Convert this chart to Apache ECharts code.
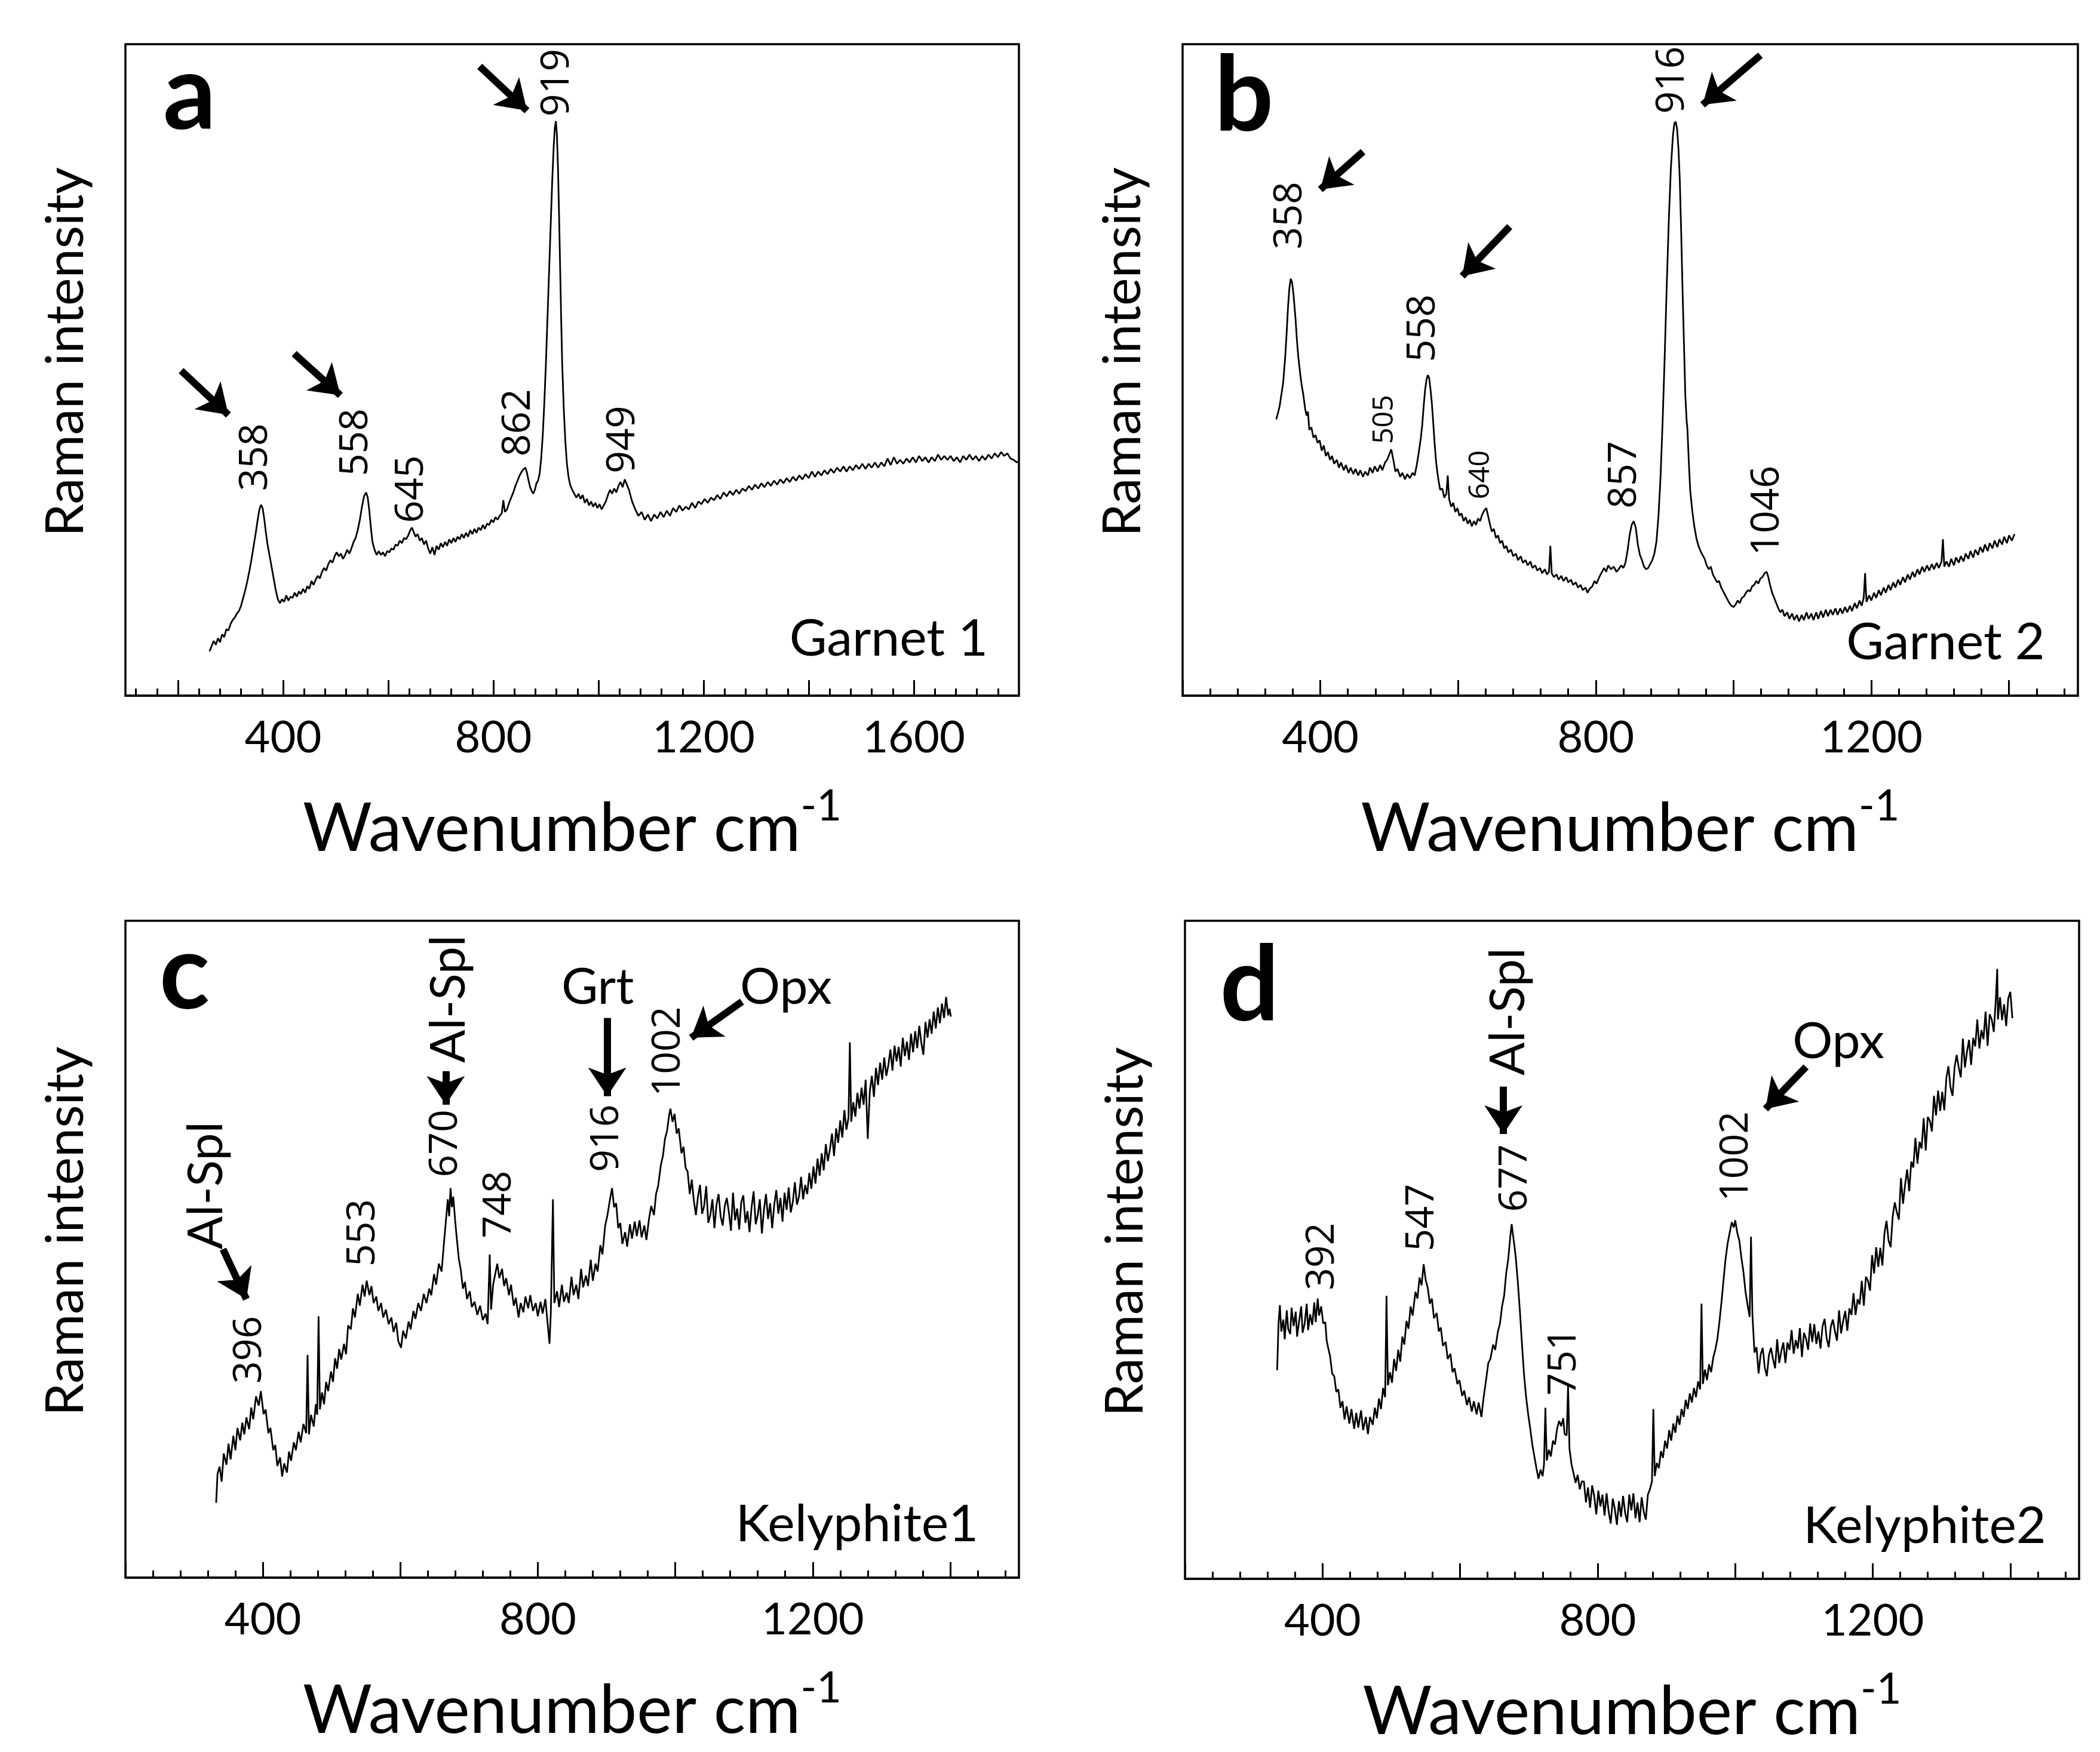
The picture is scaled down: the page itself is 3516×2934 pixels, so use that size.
<!DOCTYPE html>
<html>
<head>
<meta charset="utf-8">
<title>Raman spectra</title>
<script src="https://cdn.jsdelivr.net/npm/echarts@6/dist/echarts.min.js"></script>
<style>
html, body { margin: 0; padding: 0; background: #fff; }
#chart { width: 3516px; height: 2934px; }
</style>
</head>
<body>
<div id="chart"></div>
<script>
// spectra: [wavenumber cm-1, relative intensity 0-100]
var spectrumA = [
[260,6.8],[264,7.6],[268,8.4],[272,7.8],[276,8.8],[280,8.2],[284,9.4],[288,9.0],[292,10.2],[296,10.0],[300,11.0],[304,11.6],[308,12.0],[312,12.6],[316,13.0],[320,13.8],[324,15.0],[328,16.2],[332,17.6],[336,19.2],[340,21.0],[344,23.0],[348,25.0],[352,27.2],[355,28.6],[358,29.3],[361,28.8],[364,27.2],[367,25.2],[370,23.4],[374,21.6],[378,19.8],[382,18.0],[386,16.2],[390,14.8],[394,14.2],[398,14.8],[402,14.4],[406,15.4],[410,14.6],[414,15.2],[418,15.0],[422,15.8],[426,15.2],[430,16.0],[434,15.6],[438,16.4],[442,15.8],[446,16.8],[450,16.4],[454,17.6],[458,17.0],[462,17.8],[466,18.4],[470,18.0],[474,19.0],[478,19.6],[482,19.2],[486,20.2],[490,20.8],[494,20.4],[498,21.4],[502,22.0],[506,21.4],[510,21.8],[514,21.0],[518,21.6],[522,22.4],[526,21.8],[530,22.6],[534,23.6],[538,24.2],[542,25.4],[546,27.0],[550,29.0],[554,30.6],[558,31.2],[561,30.4],[564,28.4],[567,25.8],[570,23.6],[574,22.4],[578,21.6],[582,22.2],[586,21.6],[590,22.0],[594,21.4],[598,22.2],[602,22.0],[606,22.6],[610,22.4],[614,23.2],[618,23.0],[622,23.8],[626,23.4],[630,24.2],[634,24.0],[638,24.6],[642,25.4],[645,25.8],[648,25.2],[652,24.4],[656,24.8],[660,23.8],[664,24.2],[668,23.2],[672,23.8],[676,22.6],[680,21.8],[684,22.8],[688,21.6],[692,23.0],[696,22.4],[700,23.4],[704,22.8],[708,23.6],[712,23.0],[716,24.0],[720,23.4],[724,24.2],[728,23.6],[732,24.4],[736,24.0],[740,24.8],[744,24.2],[748,25.0],[752,24.4],[756,25.4],[760,24.8],[764,25.6],[768,25.0],[772,25.8],[776,25.4],[780,26.2],[784,25.6],[788,26.4],[792,26.2],[796,27.0],[800,26.6],[804,27.4],[808,27.0],[812,27.6],[816,28.0],[819,30.0],[822,28.2],[826,28.6],[830,29.6],[834,30.4],[838,31.2],[842,32.2],[846,33.0],[850,33.8],[854,34.4],[858,34.8],[861,35.0],[864,34.2],[867,33.0],[870,32.0],[873,31.4],[876,31.0],[879,31.6],[882,32.6],[885,33.0],[888,34.0],[891,36.4],[894,40.0],[897,45.0],[900,51.0],[903,58.0],[906,65.0],[909,72.0],[912,79.0],[915,84.6],[917,87.2],[919,88.2],[921,86.0],[923,81.0],[925,74.0],[927,66.0],[929,58.0],[931,51.0],[934,44.0],[937,39.0],[940,35.6],[943,33.6],[946,32.4],[950,31.6],[954,31.0],[958,30.4],[962,31.0],[966,30.2],[970,30.8],[974,29.6],[978,30.2],[982,29.2],[986,29.8],[990,29.0],[994,29.6],[998,28.8],[1002,29.4],[1006,28.6],[1010,29.2],[1014,29.8],[1018,30.8],[1022,31.6],[1026,31.0],[1030,31.8],[1034,31.2],[1038,32.2],[1042,32.8],[1046,32.0],[1050,33.2],[1054,32.4],
[1058,31.6],[1064,29.8],[1070,28.6],[1076,27.6],[1082,28.2],[1088,27.0],[1094,27.8],[1100,26.8],[1106,27.8],[1112,27.2],[1118,28.2],[1124,27.4],[1130,28.4],[1136,27.6],[1142,28.8],[1148,28.2],[1154,29.2],[1160,28.4],[1166,29.0],[1172,28.6],[1178,29.6],[1184,28.8],[1190,29.8],[1196,29.4],[1202,30.2],[1208,29.6],[1214,30.4],[1220,30.0],[1226,30.8],[1232,30.2],[1238,31.2],[1244,30.6],[1250,31.4],[1256,30.8],[1262,31.6],[1268,31.0],[1274,31.8],[1280,31.4],[1286,32.2],[1292,31.6],[1298,32.4],[1304,31.8],[1310,32.6],[1316,32.0],[1322,32.8],[1328,32.2],[1334,33.0],[1340,32.4],[1346,33.2],[1352,32.6],[1358,33.4],[1364,32.8],[1370,33.6],[1376,33.0],[1382,33.8],[1388,33.2],[1394,34.0],[1400,33.4],[1406,34.4],[1412,33.6],[1418,34.4],[1424,33.8],[1430,34.6],[1436,34.0],[1442,34.8],[1448,34.2],[1454,35.0],[1460,34.4],[1466,35.2],[1472,34.4],[1478,35.2],[1484,34.6],[1490,35.4],[1496,34.8],[1502,35.6],[1508,34.8],[1514,35.6],[1520,35.0],[1526,35.8],[1532,35.0],[1538,35.8],[1544,35.2],[1550,36.4],[1556,35.4],[1562,36.6],[1568,35.6],[1574,36.2],[1580,35.6],[1586,36.4],[1592,35.8],[1598,36.6],[1604,35.8],[1610,36.8],[1616,36.0],[1622,36.6],[1628,35.8],[1634,36.6],[1640,36.0],[1646,37.0],[1652,36.2],[1658,36.8],[1664,36.2],[1670,36.8],[1676,36.0],[1682,36.6],[1688,35.8],[1694,36.8],[1700,36.2],[1706,37.0],[1712,36.2],[1718,36.8],[1724,36.0],[1730,36.8],[1736,36.2],[1742,37.0],[1748,36.4],[1754,37.2],[1760,36.6],[1766,37.4],[1772,36.8],[1778,37.2],[1784,36.4],[1790,36.2],[1796,35.8],[1800,36.0]
];

var spectrumB = [
[336,42.4],[339,43.6],[341,44.5],[344,46.6],[346,48.0],[349,52.0],[351,55.5],[353,59.5],[355,62.5],[357,64.0],[359,63.4],[361,61.6],[364,57.8],[366,54.6],[368,52.0],[371,49.2],[373,47.6],[375,46.4],[378,44.0],[380,43.0],[382,43.6],[384,40.8],[387,41.2],[390,39.6],[393,40.0],[396,38.8],[399,39.2],[402,37.6],[405,38.4],[408,36.8],[411,37.4],[414,36.2],[417,36.8],[420,35.6],[424,36.2],[427,35.0],[430,35.8],[434,34.6],[437,35.4],[441,34.2],[444,35.0],[448,34.0],[451,34.8],[455,33.8],[458,34.6],[462,33.6],[465,34.4],[469,33.8],[472,35.0],[476,34.2],[479,35.2],[483,34.4],[487,35.4],[490,34.6],[494,35.8],[497,36.2],[500,37.0],[503,37.8],[506,36.2],[509,34.4],[512,34.8],[516,33.6],[519,34.2],[523,33.2],[526,34.0],[530,33.4],[534,34.2],[537,33.8],[540,35.4],[543,37.4],[546,39.6],[548,41.6],[550,44.4],[552,46.8],[554,48.4],[556,49.2],[558,48.8],[560,47.0],[562,44.8],[564,41.8],[566,38.6],[568,36.0],[570,34.2],[572,32.8],[574,31.6],[577,31.8],[580,30.4],[583,31.0],[585,33.8],[587,30.2],[590,29.0],[593,29.6],[596,28.2],[599,28.8],[602,27.6],[605,28.0],[608,26.8],[611,27.4],[614,26.4],[617,27.0],[620,26.0],[623,26.8],[626,26.2],[629,27.2],[632,26.8],[635,27.8],[638,28.4],[641,28.8],[644,27.4],[647,26.0],[649,25.2],[652,25.6],[655,24.2],[658,24.6],[661,23.4],[664,23.8],[667,22.6],[670,23.0],[673,22.0],[677,22.4],[680,21.4],[684,21.8],[687,20.8],[691,21.4],[694,20.4],[698,20.8],[701,20.0],[705,20.6],[708,19.6],[712,20.0],[715,19.2],[719,19.6],[722,18.8],[726,19.4],[729,18.6],[732,19.0],[734,23.0],[736,18.8],[739,18.2],[743,18.6],[746,17.8],[750,18.4],[753,17.6],[757,18.2],[760,17.4],[764,17.8],[767,17.0],[771,17.4],[774,16.6],[778,17.0],[781,16.2],[785,16.6],[788,15.8],[791,16.4],[795,16.8],[798,17.6],[801,17.2],[805,18.2],[808,18.8],[812,19.6],[815,19.0],[818,20.0],[822,19.4],[826,19.8],[830,19.0],[833,19.4],[837,20.0],[840,19.6],[843,20.4],[846,22.2],[849,24.6],[852,26.2],[855,26.8],[858,25.8],[861,23.2],[864,21.6],[867,20.8],[870,19.8],[873,19.4],[876,19.6],[879,20.2],[882,20.8],[885,21.8],[888,23.6],[891,27.6],[894,33.6],[897,42.0],[900,52.0],[903,63.0],[906,73.0],[909,81.0],[912,86.0],[914,87.8],[916,88.1],[918,87.0],[920,84.0],[922,79.0],[924,71.0],[926,62.0],[928,54.0],[930,46.0],[932,42.0],[933,41.0],[935,36.0],[937,31.6],[940,28.4],[943,26.0],[946,24.2],[949,23.0],[952,22.2],[955,21.6],[958,21.0],[961,20.0],[964,19.4],[967,19.8],[970,18.6],[973,18.0],[976,17.4],[979,17.6],[982,16.6],[985,16.0],[988,15.4],[991,14.8],[994,14.2],[997,13.8],[1000,13.6],[1003,14.0],[1006,14.6],[1009,14.2],[1012,15.0],[1015,15.2],[1018,15.8],[1021,16.2],[1024,16.0],[1027,16.8],[1030,17.0],[1033,17.6],[1036,17.2],[1039,18.0],[1042,18.2],[1045,18.8],[1048,19.0],[1050,18.4],[1053,17.0],[1056,15.8],[1059,15.0],[1062,14.2],[1065,13.4],[1068,12.8],[1071,13.2],[1074,12.2],[1078,12.8],[1081,11.8],[1085,12.6],[1088,11.6],[1092,12.4],[1095,11.4],[1099,12.4],[1102,11.6],[1106,12.8],[1109,11.8],[1113,12.6],[1116,11.6],[1120,12.8],[1123,11.8],[1127,13.0],[1130,12.0],[1134,13.2],[1137,12.2],[1141,13.2],[1144,12.4],[1148,13.4],[1151,12.4],[1155,13.4],[1158,12.6],[1162,13.6],[1165,12.8],[1169,13.8],[1172,13.0],[1176,14.2],[1179,13.4],[1183,14.6],[1186,13.8],[1189,15.0],[1191,18.8],[1193,14.4],[1197,15.4],[1200,14.6],[1204,15.8],[1207,15.0],[1211,16.2],[1214,15.4],[1218,16.6],[1221,15.8],[1225,17.0],[1228,16.2],[1232,17.4],[1235,16.6],[1239,17.8],[1242,17.0],[1246,18.2],[1249,17.4],[1253,18.6],[1256,17.8],[1260,19.0],[1263,18.2],[1267,19.4],[1270,18.6],[1274,19.8],[1277,19.0],[1281,20.0],[1284,19.2],[1288,20.2],[1291,19.4],[1295,20.4],[1298,19.6],[1302,20.6],[1304,24.0],[1306,19.8],[1309,20.6],[1313,19.8],[1316,21.0],[1320,20.0],[1323,21.2],[1327,20.4],[1330,21.4],[1334,20.6],[1337,21.8],[1341,21.0],[1344,22.2],[1348,21.2],[1351,22.4],[1355,21.6],[1358,22.8],[1362,22.0],[1365,23.2],[1369,22.2],[1372,23.4],[1376,22.6],[1379,23.8],[1383,22.8],[1386,24.0],[1390,23.2],[1393,24.4],[1397,23.4],[1400,24.6],[1404,23.8],[1408,24.8]
];

var spectrumC = [
[332,11.4],[334,15.8],[337,16.9],[340,14.6],[343,18.9],[347,17.2],[350,20.4],[353,18.0],[357,21.6],[360,19.4],[363,22.8],[367,20.9],[370,23.6],[373,21.8],[376,24.4],[380,22.6],[383,25.9],[386,24.1],[390,27.6],[394,26.2],[397,28.4],[401,24.9],[404,25.6],[408,22.0],[411,22.8],[415,19.4],[418,20.2],[421,17.0],[425,18.3],[428,15.4],[431,17.4],[435,16.0],[438,19.2],[441,17.8],[445,20.6],[448,19.4],[452,22.2],[455,20.6],[459,23.4],[463,22.0],[465,33.9],[467,21.8],[470,24.8],[474,23.0],[477,26.4],[479,24.8],[481,39.8],[483,25.6],[486,28.2],[489,26.4],[492,29.8],[495,28.4],[499,31.4],[502,29.8],[505,33.4],[508,31.8],[511,34.8],[514,33.2],[518,35.6],[521,34.0],[524,38.4],[528,37.8],[531,41.0],[534,39.6],[538,43.2],[541,41.4],[545,44.6],[548,42.8],[551,45.2],[555,43.0],[558,44.4],[561,41.8],[565,42.8],[568,40.6],[572,41.8],[575,39.6],[579,40.8],[583,38.6],[587,39.6],[590,37.4],[594,38.8],[597,36.0],[601,35.0],[604,37.6],[608,36.4],[612,39.0],[615,37.8],[619,40.6],[622,39.4],[626,41.8],[630,40.6],[634,43.2],[638,41.8],[642,44.0],[645,43.0],[649,46.2],[652,44.6],[656,47.8],[660,46.6],[663,50.4],[666,54.0],[669,57.6],[671,55.0],[673,59.3],[675,56.4],[677,58.0],[680,54.0],[682,51.8],[685,48.6],[688,46.8],[691,44.0],[694,45.0],[697,42.4],[701,43.6],[704,41.2],[708,42.0],[712,40.0],[716,41.4],[720,39.2],[724,40.2],[727,38.6],[730,49.2],[732,40.8],[735,44.6],[738,46.2],[741,47.8],[744,45.6],[748,47.0],[751,44.4],[754,45.6],[758,43.0],[761,44.6],[765,41.4],[768,42.6],[772,39.6],[775,41.8],[779,40.4],[782,42.8],[786,41.0],[789,43.0],[793,40.6],[797,41.8],[800,39.8],[804,42.0],[807,40.2],[811,42.4],[814,39.0],[817,35.6],[819,40.6],[822,57.6],[824,41.8],[828,43.6],[831,41.2],[835,44.6],[838,42.0],[842,43.4],[845,41.8],[849,45.8],[852,43.0],[856,44.6],[859,42.4],[863,47.0],[866,44.2],[870,46.0],[873,44.4],[877,48.4],[880,45.2],[884,47.8],[887,46.6],[891,50.6],[894,49.2],[898,53.6],[901,55.0],[905,57.6],[908,59.3],[911,56.4],[914,57.0],[917,53.2],[920,54.0],[923,50.8],[927,52.6],[930,50.4],[934,53.8],[937,51.6],[941,54.2],[944,52.0],[948,54.4],[951,51.8],[955,53.6],[958,51.4],[962,54.8],[965,56.6],[969,55.2],[972,58.4],[975,59.6],[979,62.8],[982,64.2],[985,66.8],[988,68.0],[991,70.4],[993,71.4],[996,69.4],[999,70.6],[1002,67.6],[1005,68.4],[1009,64.6],
[1012,65.6],[1015,62.4],[1018,61.8],[1021,58.4],[1024,60.6],[1027,57.4],[1030,55.2],[1033,58.0],[1036,59.8],[1039,55.4],[1042,56.6],[1045,59.6],[1048,54.0],[1051,55.2],[1054,57.6],[1057,53.2],[1060,56.8],[1063,58.4],[1066,55.0],[1069,53.6],[1072,56.6],[1075,57.8],[1078,55.6],[1081,52.8],[1084,58.6],[1087,54.4],[1090,56.2],[1093,53.0],[1096,57.2],[1099,58.2],[1102,54.0],[1105,55.8],[1108,52.6],[1111,56.4],[1114,58.8],[1117,53.8],[1120,55.2],[1123,57.6],[1126,52.4],[1129,56.0],[1132,58.4],[1135,54.6],[1138,57.0],[1141,53.2],[1144,56.8],[1147,59.0],[1150,55.4],[1153,57.8],[1156,54.2],[1159,58.6],[1162,56.0],[1165,59.4],[1168,55.6],[1171,57.2],[1174,60.2],[1177,56.8],[1180,58.0],[1183,61.0],[1186,57.6],[1189,59.8],[1192,58.4],[1195,61.6],[1198,59.2],[1201,62.6],[1204,60.0],[1207,63.8],[1210,61.2],[1213,64.6],[1216,62.0],[1219,66.0],[1222,63.4],[1225,65.2],[1228,67.6],[1231,64.2],[1234,68.4],[1237,66.2],[1240,69.6],[1243,67.0],[1246,71.2],[1249,68.2],[1252,70.0],[1254,81.5],[1256,69.4],[1259,72.4],[1262,70.2],[1265,73.8],[1268,71.4],[1271,74.6],[1274,72.0],[1277,75.8],[1280,66.8],[1283,74.0],[1286,76.4],[1289,73.2],[1292,77.6],[1295,75.0],[1298,78.4],[1301,75.8],[1304,79.2],[1307,76.4],[1310,78.0],[1313,80.4],[1316,77.2],[1319,81.0],[1322,78.6],[1325,80.8],[1328,77.8],[1331,82.2],[1334,79.4],[1337,81.6],[1340,78.8],[1343,82.8],[1346,80.0],[1349,83.2],[1352,80.6],[1355,84.0],[1358,81.4],[1361,79.6],[1364,84.6],[1367,82.2],[1370,85.0],[1373,82.8],[1376,86.2],[1379,83.6],[1382,86.8],[1385,84.4],[1388,87.4],[1391,85.2],[1394,88.4],[1397,85.6],[1399,86.6],[1401,85.4]
];

var spectrumD = [
[334,31.7],[336,38.8],[338,41.6],[340,37.6],[343,39.4],[345,36.4],[348,40.8],[350,38.0],[353,37.2],[355,41.2],[358,38.4],[361,40.6],[363,36.8],[366,39.2],[369,41.4],[371,37.4],[374,38.8],[377,41.8],[379,37.8],[382,40.2],[385,38.6],[388,42.0],[390,39.0],[393,42.6],[395,40.0],[398,41.4],[401,38.8],[404,39.0],[406,36.2],[408,35.2],[411,33.8],[414,31.2],[417,30.8],[420,28.4],[423,28.8],[426,26.0],[429,27.0],[432,24.2],[435,26.2],[439,23.6],[442,25.8],[446,22.8],[449,25.2],[452,23.0],[456,25.6],[459,22.6],[463,24.6],[466,22.0],[469,24.6],[473,23.4],[476,26.0],[479,24.4],[482,27.4],[485,25.8],[488,29.0],[491,27.6],[493,43.0],[495,29.4],[498,31.4],[501,29.8],[504,33.4],[507,31.6],[510,34.8],[513,33.0],[516,36.8],[519,35.6],[522,39.2],[525,38.0],[528,41.4],[531,40.0],[535,43.6],[538,42.6],[541,45.8],[544,44.6],[547,47.8],[550,45.4],[553,44.2],[556,41.8],[559,42.6],[562,39.6],[566,40.4],[569,37.6],[572,38.2],[575,35.4],[579,36.0],[582,33.4],[586,34.2],[589,31.4],[592,32.0],[596,29.6],[599,30.2],[603,27.8],[606,28.6],[610,26.4],[613,27.6],[617,25.4],[620,27.0],[624,25.0],[627,26.8],[631,24.6],[634,27.4],[638,30.4],[641,32.8],[644,33.4],[648,35.6],[651,34.8],[655,37.6],[658,38.8],[661,41.4],[664,43.0],[667,46.4],[670,48.6],[673,52.0],[675,53.9],[677,52.2],[679,50.6],[681,48.8],[684,45.0],[687,40.6],[690,35.6],[693,31.0],[696,27.6],[699,25.0],[702,22.8],[705,20.4],[708,18.6],[711,16.8],[714,15.2],[717,16.6],[720,15.6],[722,17.4],[724,26.0],[726,18.0],[729,19.6],[732,18.6],[735,21.0],[738,20.4],[741,22.8],[744,24.0],[747,23.2],[750,24.4],[752,22.0],[755,21.8],[757,29.4],[759,19.8],[762,17.4],[765,16.0],[768,14.6],[771,15.8],[774,13.6],[777,14.8],
[780,14.8],[783,11.6],[786,13.9],[789,10.8],[792,14.2],[795,12.6],[798,9.8],[801,13.4],[804,11.0],[807,12.8],[810,9.6],[813,13.0],[816,10.2],[819,8.4],[822,12.2],[825,10.6],[828,8.2],[831,11.8],[834,9.4],[837,12.6],[840,10.0],[843,8.6],[846,12.8],[849,10.4],[852,13.0],[855,9.2],[858,11.6],[861,8.6],[864,12.4],[867,10.2],[870,9.0],[873,12.8],[876,13.6],[879,14.8],[881,25.8],[883,15.6],
[886,17.6],[889,16.8],[892,19.4],[895,18.4],[898,21.0],[901,19.8],[904,22.6],[907,21.0],[910,23.6],[913,22.2],[916,24.8],[919,23.4],[922,25.8],[925,24.6],[928,27.2],[931,25.8],[934,28.2],[937,26.8],[940,29.0],[943,27.6],[946,30.0],[949,28.8],[951,41.8],[953,29.6],[956,31.8],[959,30.2],[962,32.6],[965,31.4],[968,33.6],[971,34.8],[974,36.4],[977,39.0],[980,42.0],[983,45.4],[986,48.6],[989,51.0],[992,52.6],[995,54.2],[998,53.4],[1000,54.5],[1003,52.6],[1006,51.4],[1009,48.8],[1012,46.6],[1015,43.6],[1018,41.6],[1021,39.8],[1023,52.0],
[1025,40.2],[1028,34.4],[1031,35.2],[1034,31.2],[1037,34.1],[1040,35.1],[1043,32.1],[1046,30.8],[1049,34.0],[1052,35.1],[1055,33.4],[1058,32.0],[1061,36.4],[1064,32.8],[1067,34.6],[1070,35.9],[1073,32.8],[1076,35.9],[1079,34.8],[1082,37.8],[1085,34.2],[1088,36.3],[1091,35.0],[1094,38.1],[1097,33.7],[1100,37.4],[1103,36.5],[1106,34.8],[1109,38.8],[1112,36.0],[1115,38.7],[1118,35.7],[1121,37.6],[1124,35.0],[1127,38.4],[1130,39.5],[1133,36.5],[1136,35.2],[1139,38.3],[1142,39.4],[1145,37.6],[1148,36.2],[1151,40.8],[1154,37.3],[1157,39.2],[1160,40.7],[1163,37.7],[1166,41.1],[1169,40.1],[1172,43.4],[1175,40.1],[1178,42.5],[1181,41.7],[1184,45.3],[1187,41.5],
[1190,45.9],[1193,45.3],[1196,43.8],[1199,49.2],[1202,46.4],[1205,50.4],[1208,47.4],[1211,50.3],[1214,47.6],[1217,52.5],[1220,54.4],[1223,51.4],[1226,50.4],[1229,55.1],[1232,57.2],[1235,55.7],[1238,54.6],[1241,60.9],[1244,57.0],[1247,59.9],[1250,62.2],[1253,58.9],[1256,63.4],[1259,62.5],[1262,67.0],[1265,63.1],[1268,66.4],[1271,65.4],[1274,70.0],[1277,65.1],[1280,70.2],[1283,69.6],[1286,68.0],[1289,73.4],[1292,70.4],[1295,74.2],[1298,71.1],[1301,74.0],[1304,71.2],[1307,76.1],[1310,77.9],[1313,74.7],[1316,73.4],[1319,77.8],[1322,79.6],[1325,77.7],[1328,76.2],[1331,82.1],[1334,77.7],[1337,80.1],[1340,81.9],[1343,78.1],[1346,82.2],[1349,80.9],[1352,85.0],[1355,80.6],[1358,83.4],[1361,82.0],[1364,86.2],[1367,81.0],[1370,85.8],[1373,85.0],[1376,83.1],[1379,88.2],[1381,92.7],[1382,85.0],[1385,88.4],[1388,84.9],[1391,87.3],[1394,84.0],[1397,88.2],[1400,89.2],[1403,85.2]
];

// tick labels
var labelTicksA = [400, 800, 1200, 1600];
var labelTicksBCD = [400, 800, 1200];

// annotations: [x, y, text, kind]
var textA = [
  [222, 92.2, 'a', 'letter'], [1741, 8.7, 'Garnet 1', 'sample'],
  [348, 36.6, '358', 'peak'], [539, 38.9, '558', 'peak'], [645, 31.7, '645', 'peak'],
  [848, 41.9, '862', 'peak'], [922, 94.1, '919', 'peak'], [1047, 39.3, '949', 'peak']
];
var textB = [
  [289, 91.9, 'b', 'letter'], [1452, 8.1, 'Garnet 2', 'sample'],
  [356, 73.7, '358', 'peak'], [493, 42.4, '505', 'small'], [550, 56.4, '558', 'peak'],
  [633, 33.9, '640', 'small'], [842, 33.9, '857', 'peak'], [911, 94.5, '916', 'peak'], [1049, 28.4, '1046', 'peak']
];
var textC = [
  [286, 91.8, 'c', 'letter'], [1441, 8.1, 'Kelyphite1', 'sample'],
  [381, 34.7, '396', 'peak'], [546, 52.5, '553', 'peak'], [666, 66.1, '670', 'peak'],
  [744, 56.8, '748', 'peak'], [901, 66.9, '916', 'peak'], [990, 80.1, '1002', 'peak'],
  [318, 59.7, 'Al-Spl', 'mineralV'], [671, 88.1, 'Al-Spl', 'mineralV'],
  [887, 89.8, 'Grt', 'mineral'], [1161, 89.8, 'Opx', 'mineral']
];
var textD = [
  [294, 90.0, 'd', 'letter'], [1452, 8.0, 'Kelyphite2', 'sample'],
  [400, 49.0, '392', 'peak'], [545, 54.9, '547', 'peak'], [680, 60.9, '677', 'peak'],
  [752, 33.0, '751', 'peak'], [1002, 64.2, '1002', 'peak'],
  [670, 86.2, 'Al-Spl', 'mineralV'], [1150, 81.6, 'Opx', 'mineral']
];

// arrows: [x tail, y tail, x head, y head]
var arrowsA = [[206, 49.9, 296, 43.1], [421, 52.5, 509, 46.1], [774, 96.6, 864, 89.8]];
var arrowsB = [[462, 83.5, 400, 77.7], [675, 72.0, 606, 64.4], [1039, 98.3, 955, 90.7]];
var arrowsC = [[342, 50.0, 376, 42.4], [666, 77.1, 666, 72.0], [901, 85.2, 901, 73.3], [1097, 87.7, 1023, 82.2]];
var arrowsD = [[663, 74.8, 663, 67.6], [1103, 77.8, 1044, 71.4]];

var panels = [
  {grid: {left: 210, top: 74, width: 1496, height: 1091}, min: 100, max: 1800, labels: labelTicksA, spectrum: spectrumA, text: textA, arrows: arrowsA},
  {grid: {left: 1980, top: 74, width: 1499, height: 1091}, min: 200, max: 1500, labels: labelTicksBCD, spectrum: spectrumB, text: textB, arrows: arrowsB},
  {grid: {left: 210, top: 1542, width: 1496, height: 1100}, min: 200, max: 1500, labels: labelTicksBCD, spectrum: spectrumC, text: textC, arrows: arrowsC},
  {grid: {left: 1984, top: 1542, width: 1497, height: 1102}, min: 200, max: 1500, labels: labelTicksBCD, spectrum: spectrumD, text: textD, arrows: arrowsD}
];

var textStyles = {
  letter:   {fontFamily: 'Lato', fontWeight: 'bold', fontSize: 175, rotate: 0, align: 'center'},
  sample:   {fontFamily: 'Lato', fontWeight: 'normal', fontSize: 86, rotate: 0, align: 'right'},
  peak:     {fontFamily: 'Open Sans', fontWeight: 'normal', fontSize: 66, rotate: 90, align: 'center'},
  small:    {fontFamily: 'Open Sans', fontWeight: 'normal', fontSize: 48, rotate: 90, align: 'center'},
  mineralV: {fontFamily: 'Lato', fontWeight: 'normal', fontSize: 82, rotate: 90, align: 'center'},
  mineral:  {fontFamily: 'Lato', fontWeight: 'normal', fontSize: 84, rotate: 0, align: 'center'}
};

function stepTicks(from, to, step, skip) {
  var out = [];
  for (var v = from; v <= to; v += step) {
    if (skip && v % skip === 0) continue;
    out.push(v);
  }
  return out;
}

var option = {
  animation: false,
  backgroundColor: '#fff',
  grid: [], xAxis: [], yAxis: [], series: []
};

panels.forEach(function (p, i) {
  var firstMajor = Math.ceil(p.min / 200) * 200;
  var firstMinor = Math.ceil((p.min + 1) / 40) * 40;
  option.grid.push({
    left: p.grid.left, top: p.grid.top, width: p.grid.width, height: p.grid.height,
    show: true, borderColor: '#000', borderWidth: 3.5, backgroundColor: 'transparent'
  });
  // main axis: long ticks every 200, labels
  option.xAxis.push({
    gridIndex: i, type: 'value', min: p.min, max: p.max, position: 'bottom',
    axisLine: {show: true, onZero: false, lineStyle: {color: '#000', width: 3.5}},
    axisTick: {show: true, inside: true, length: 26, lineStyle: {color: '#000', width: 3},
               customValues: stepTicks(firstMajor, p.max - 1, 200)},
    axisLabel: {show: true, customValues: p.labels, margin: 34, color: '#000',
                fontSize: 74, fontFamily: 'Lato',
                formatter: function (v) { return String(v); }},
    splitLine: {show: false},
    name: '{t|Wavenumber cm}{s|-1}',
    nameLocation: 'middle', nameGap: 150,
    nameTextStyle: {
      rich: {
        t: {fontSize: 112, fontFamily: 'Lato', color: '#000', lineHeight: 130, verticalAlign: 'bottom'},
        s: {fontSize: 72, fontFamily: 'Lato', color: '#000', lineHeight: 72, verticalAlign: 'top'}
      }
    }
  });
  // minor ticks every 40
  option.xAxis.push({
    gridIndex: i, type: 'value', min: p.min, max: p.max, position: 'bottom',
    axisLine: {show: false},
    axisTick: {show: true, inside: true, length: 12, lineStyle: {color: '#000', width: 3},
               customValues: stepTicks(firstMinor, p.max - 1, 40, 200)},
    axisLabel: {show: false},
    splitLine: {show: false}
  });
  option.yAxis.push({
    gridIndex: i, type: 'value', min: 0, max: 100,
    axisLine: {show: false}, axisTick: {show: false}, axisLabel: {show: false}, splitLine: {show: false},
    name: 'Raman intensity', nameLocation: 'middle', nameGap: 55,
    nameTextStyle: {fontSize: 88, fontFamily: 'Lato', color: '#000', padding: [0, 0, 0, 60]}
  });

  option.series.push({
    type: 'line', xAxisIndex: i * 2, yAxisIndex: i,
    data: p.spectrum, symbol: 'none', showSymbol: false, smooth: false,
    lineStyle: {color: '#000', width: 2.8}, silent: true
  });

  option.series.push({
    type: 'scatter', xAxisIndex: i * 2, yAxisIndex: i,
    symbolSize: 0, itemStyle: {color: '#000', opacity: 1}, silent: true,
    data: p.text.map(function (t) {
      var st = textStyles[t[3]];
      return {
        value: [t[0], t[1]],
        label: {
          show: true, position: 'inside', formatter: t[2], color: '#000', opacity: 1,
          textBorderWidth: 0, textShadowBlur: 0,
          fontFamily: st.fontFamily, fontWeight: st.fontWeight, fontSize: st.fontSize,
          rotate: st.rotate, align: st.align, verticalAlign: 'middle'
        }
      };
    }),
    markLine: {
      silent: true, symbol: ['none', 'arrow'], symbolSize: 48,
      label: {show: false},
      lineStyle: {color: '#000', width: 12, type: 'solid', opacity: 1},
      emphasis: {disabled: true},
      data: p.arrows.map(function (a) {
        return [{coord: [a[0], a[1]]}, {coord: [a[2], a[3]]}];
      })
    }
  });
});

var chart = echarts.init(document.getElementById('chart'));
chart.setOption(option);
</script>
</body>
</html>
